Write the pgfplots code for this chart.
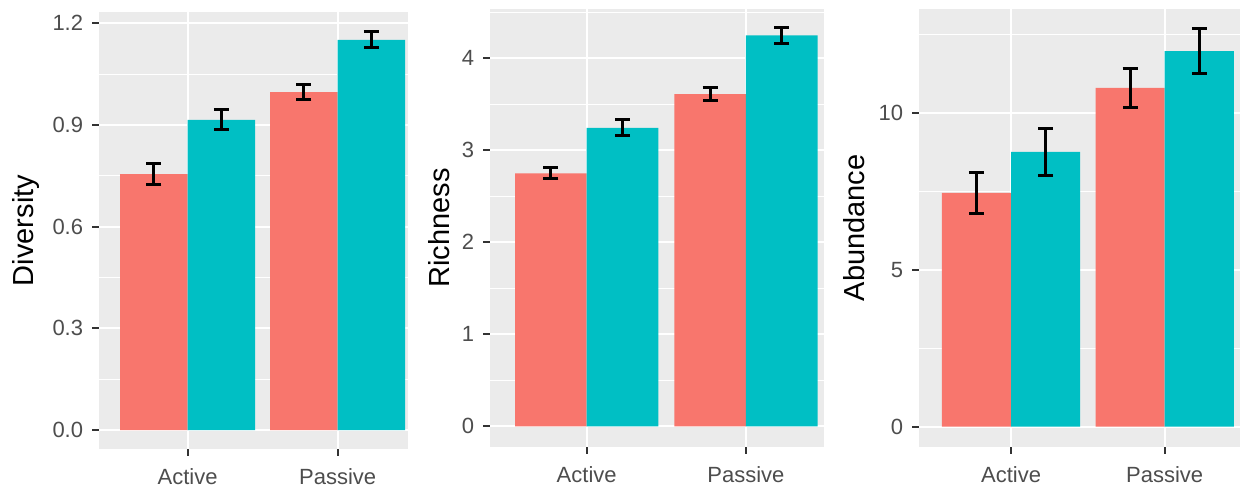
\documentclass[border=0pt]{standalone}
\usepackage{pgfplots}
\pgfplotsset{compat=1.18}
\usepackage{fontspec}
\setmainfont{Liberation Sans}
\definecolor{ggred}{HTML}{F8766D}
\definecolor{ggteal}{HTML}{00BFC4}
\definecolor{ggbg}{HTML}{EBEBEB}
\definecolor{ggtick}{HTML}{4D4D4D}
\definecolor{ggtickline}{HTML}{333333}
\pgfplotsset{
  ggpanel/.style={
    scale only axis,
    anchor=south west,
    axis background/.style={fill=ggbg},
    axis line style={draw=none},
    tick align=outside,
    major tick length=3.5pt,
    minor tick length=0pt,
    tick style={ggtickline, line width=1pt},
    xtick pos=bottom, ytick pos=left,
    xtick={1,2}, xticklabels={Active,Passive},
    xmajorgrids, ymajorgrids, yminorgrids,
    major grid style={white, line width=1pt},
    minor grid style={white, line width=0.5pt},
    ticklabel style={font=\fontsize{11}{13}\selectfont, text=ggtick},
    yticklabel style={anchor=east, inner sep=0pt, xshift=-4.25pt},
    xticklabel style={anchor=north, inner sep=0pt, yshift=-6.25pt},
    ybar, bar width=0.45, bar shift=0pt,
  },
  gglabel/.style={
    every axis y label/.style={at={(axis description cs:#1,0.5)}, rotate=90, anchor=north, inner sep=0pt, font=\fontsize{14.5}{17}\selectfont, text=black},
  },
  redbar/.style={fill=ggred, draw=none, error bars/.cd, y dir=both, y explicit,
    error bar style={draw=black, line width=1.5pt},
    error mark options={draw=black, rotate=90, line width=1.5pt, mark size=3.75pt}},
  tealbar/.style={fill=ggteal, draw=none, error bars/.cd, y dir=both, y explicit,
    error bar style={draw=black, line width=1.5pt},
    error mark options={draw=black, rotate=90, line width=1.5pt, mark size=3.75pt}},
}
\begin{document}
\begin{tikzpicture}
\path[use as bounding box] (0,0) rectangle (622pt,245.5pt);
% Panel 1: Diversity
\begin{axis}[ggpanel, gglabel=-0.2816,
  at={(49.5pt,21pt)}, width=154.5pt, height=218.5pt,
  xmin=0.409, xmax=2.469, ymin=-0.056, ymax=1.233,
  ytick={0,0.3,0.6,0.9,1.2}, yticklabels={0.0,0.3,0.6,0.9,1.2},
  minor ytick={0.15,0.45,0.75,1.05},
  ylabel={Diversity}]
\addplot[redbar] coordinates {(0.775,0.755) +- (0,0.032) (1.775,0.997) +- (0,0.023)};
\addplot[tealbar] coordinates {(1.225,0.915) +- (0,0.030) (2.225,1.151) +- (0,0.023)};
\end{axis}
% Panel 2: Richness
\begin{axis}[ggpanel, gglabel=-0.1856,
  at={(245pt,22.15pt)}, width=167pt, height=218.85pt,
  xmin=0.393, xmax=2.49, ymin=-0.222, ymax=4.536,
  ytick={0,1,2,3,4}, yticklabels={0,1,2,3,4},
  minor ytick={0.5,1.5,2.5,3.5,4.5},
  ylabel={Richness}]
\addplot[redbar] coordinates {(0.775,2.75) +- (0,0.06) (1.775,3.61) +- (0,0.07)};
\addplot[tealbar] coordinates {(1.225,3.245) +- (0,0.085) (2.225,4.25) +- (0,0.085)};
\end{axis}
% Panel 3: Abundance
\begin{axis}[ggpanel, gglabel=-0.2368,
  at={(459.5pt,22.15pt)}, width=160.5pt, height=218.85pt,
  xmin=0.401, xmax=2.49, ymin=-0.639, ymax=13.31,
  ytick={0,5,10}, yticklabels={0,5,10},
  minor ytick={2.5,7.5,12.5},
  ylabel={Abundance}]
\addplot[redbar] coordinates {(0.775,7.45) +- (0,0.65) (1.775,10.8) +- (0,0.62)};
\addplot[tealbar] coordinates {(1.225,8.76) +- (0,0.75) (2.225,11.97) +- (0,0.71)};
\end{axis}
\end{tikzpicture}
\end{document}
